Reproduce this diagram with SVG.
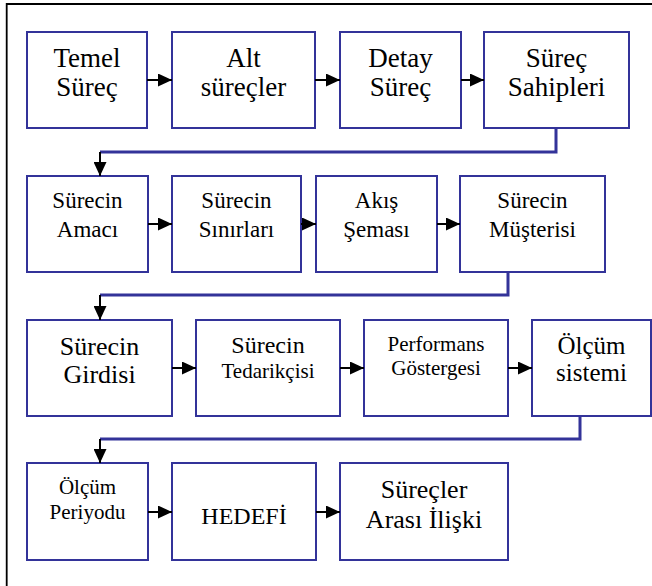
<svg xmlns="http://www.w3.org/2000/svg" width="652" height="586" viewBox="0 0 652 586">
  <style>
    .box { fill: #ffffff; stroke: #333399; stroke-width: 2; }
    .flow { fill: none; stroke: #000000; stroke-width: 2; marker-end: url(#head); }
    .link { fill: none; stroke: #333399; stroke-width: 3; }
    .frame { fill: none; stroke: #000000; stroke-width: 1.8; }
  </style>
  <defs>
    <marker id="head" markerUnits="userSpaceOnUse" markerWidth="14" markerHeight="13" refX="14" refY="6.5" orient="auto">
      <path d="M0,0 L14,6.5 L0,13 Z" fill="#000000"/>
    </marker>
  </defs>

  <rect width="652" height="586" fill="#ffffff"/>
  <path class="frame" d="M6.7,586 V4 H652"/>

  <g id="temel-surec">
    <rect class="box" x="27" y="32" width="120" height="96"/>
    <text font-family="Liberation Serif" text-anchor="middle" font-size="27"><tspan x="87" y="67">Temel</tspan><tspan x="87" y="96">Süreç</tspan></text>
  </g>
  <g id="alt-surecler">
    <rect class="box" x="172" y="32" width="143" height="96"/>
    <text font-family="Liberation Serif" text-anchor="middle" font-size="27"><tspan x="243.5" y="67">Alt</tspan><tspan x="243.5" y="96">süreçler</tspan></text>
  </g>
  <g id="detay-surec">
    <rect class="box" x="340" y="32" width="121" height="96"/>
    <text font-family="Liberation Serif" text-anchor="middle" font-size="27"><tspan x="400.5" y="67">Detay</tspan><tspan x="400.5" y="96">Süreç</tspan></text>
  </g>
  <g id="surec-sahipleri">
    <rect class="box" x="484" y="32" width="145" height="96"/>
    <text font-family="Liberation Serif" text-anchor="middle" font-size="27"><tspan x="556.5" y="67">Süreç</tspan><tspan x="556.5" y="96">Sahipleri</tspan></text>
  </g>

  <g id="surecin-amaci">
    <rect class="box" x="27" y="176" width="121" height="96"/>
    <text font-family="Liberation Serif" text-anchor="middle" font-size="23"><tspan x="87.5" y="208">Sürecin</tspan><tspan x="87.5" y="237">Amacı</tspan></text>
  </g>
  <g id="surecin-sinirlari">
    <rect class="box" x="172" y="176" width="129" height="96"/>
    <text font-family="Liberation Serif" text-anchor="middle" font-size="23"><tspan x="236.5" y="208">Sürecin</tspan><tspan x="236.5" y="237">Sınırları</tspan></text>
  </g>
  <g id="akis-semasi">
    <rect class="box" x="316" y="176" width="121" height="96"/>
    <text font-family="Liberation Serif" text-anchor="middle" font-size="23"><tspan x="376.5" y="208">Akış</tspan><tspan x="376.5" y="237">Şeması</tspan></text>
  </g>
  <g id="surecin-musterisi">
    <rect class="box" x="460" y="176" width="145" height="96"/>
    <text font-family="Liberation Serif" text-anchor="middle" font-size="23"><tspan x="532.5" y="208">Sürecin</tspan><tspan x="532.5" y="237">Müşterisi</tspan></text>
  </g>

  <g id="surecin-girdisi">
    <rect class="box" x="27" y="320" width="145" height="96"/>
    <text font-family="Liberation Serif" text-anchor="middle" font-size="26"><tspan x="99.5" y="355">Sürecin</tspan><tspan x="99.5" y="383">Girdisi</tspan></text>
  </g>
  <g id="surecin-tedarikcisi">
    <rect class="box" x="196" y="320" width="144" height="96"/>
    <text font-family="Liberation Serif" text-anchor="middle"><tspan x="268" y="353" font-size="24">Sürecin</tspan><tspan x="268" y="378" font-size="21">Tedarikçisi</tspan></text>
  </g>
  <g id="performans-gostergesi">
    <rect class="box" x="364" y="320" width="144" height="96"/>
    <text font-family="Liberation Serif" text-anchor="middle" font-size="21"><tspan x="436" y="351">Performans</tspan><tspan x="436" y="375">Göstergesi</tspan></text>
  </g>
  <g id="olcum-sistemi">
    <rect class="box" x="532" y="320" width="119" height="96"/>
    <text font-family="Liberation Serif" text-anchor="middle" font-size="25"><tspan x="591.5" y="354">Ölçüm</tspan><tspan x="591.5" y="381">sistemi</tspan></text>
  </g>

  <g id="olcum-periyodu">
    <rect class="box" x="27" y="463" width="121" height="97"/>
    <text font-family="Liberation Serif" text-anchor="middle" font-size="21"><tspan x="87.5" y="494">Ölçüm</tspan><tspan x="87.5" y="519">Periyodu</tspan></text>
  </g>
  <g id="hedefi">
    <rect class="box" x="172" y="463" width="144" height="97"/>
    <text font-family="Liberation Serif" text-anchor="middle" font-size="24" x="244" y="524">HEDEFİ</text>
  </g>
  <g id="surecler-arasi-iliski">
    <rect class="box" x="340" y="463" width="168" height="97"/>
    <text font-family="Liberation Serif" text-anchor="middle" font-size="26"><tspan x="424" y="498">Süreçler</tspan><tspan x="424" y="528">Arası İlişki</tspan></text>
  </g>

  <g id="connectors">
    <path class="flow" d="M147,80 H172"/>
    <path class="flow" d="M315,80 H340"/>
    <path class="flow" d="M461,80 H484"/>
    <path class="flow" d="M148,224 H172"/>
    <path class="flow" d="M301,224 H316"/>
    <path class="flow" d="M437,224 H460"/>
    <path class="flow" d="M172,368 H196"/>
    <path class="flow" d="M340,368 H364"/>
    <path class="flow" d="M508,368 H532"/>
    <path class="flow" d="M148,512 H172"/>
    <path class="flow" d="M316,512 H340"/>
    <path class="link" d="M556,128 V152 H100"/>
    <path class="flow" d="M100,152 V176"/>
    <path class="link" d="M508,272 V295 H100"/>
    <path class="flow" d="M100,295 V320"/>
    <path class="link" d="M580,416 V439 H100"/>
    <path class="flow" d="M100,439 V463"/>
  </g>
</svg>
